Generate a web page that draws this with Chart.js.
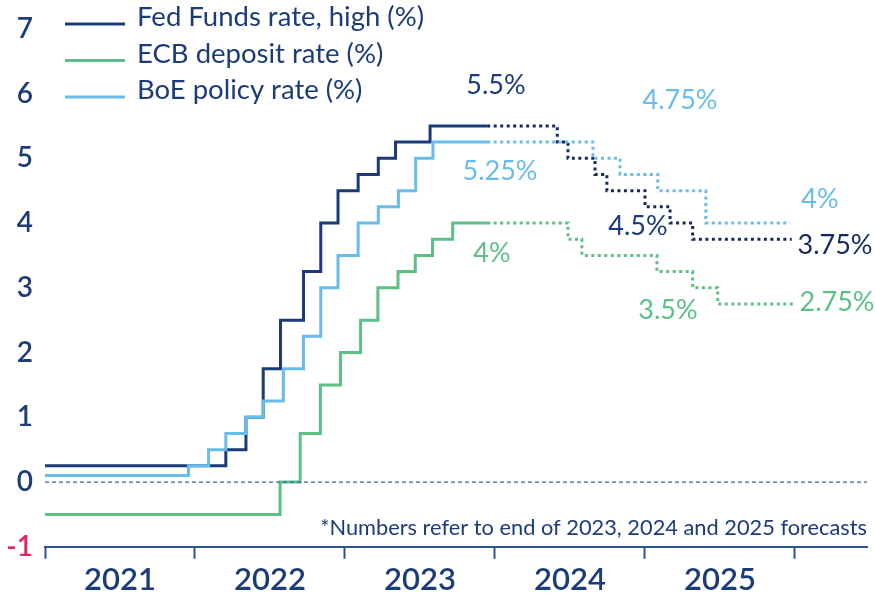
<!DOCTYPE html>
<html>
<head>
<meta charset="utf-8">
<script src="https://cdn.jsdelivr.net/npm/chart.js@4.4.1/dist/chart.umd.min.js"></script>
<style>
    html, body { margin: 0; padding: 0; background: #ffffff; }
    #chart { display: block; }
</style>
</head>
<body>
<canvas id="chart" width="875" height="602"></canvas>
<script>
// policy rate steps: date of change -> new rate (last points are forecasts)
const fedDates = ["2021-01-01", "2022-03-17", "2022-05-05", "2022-06-16", "2022-07-28", "2022-09-22",
    "2022-11-03", "2022-12-15", "2023-02-02", "2023-03-23", "2023-05-04", "2023-07-27", "2023-12-13",
    "2024-06-01", "2024-06-27", "2024-09-01", "2024-09-30", "2025-01-01", "2025-03-03", "2025-04-27", "2025-12-24"];
const fedRates = [0.25, 0.5, 1.0, 1.75, 2.5, 3.25, 4.0, 4.5, 4.75, 5.0, 5.25, 5.5, 5.5,
    5.25, 5.0, 4.75, 4.5, 4.25, 4.0, 3.75, 3.75];

const ecbDates = ["2021-01-01", "2022-07-27", "2022-09-14", "2022-11-02", "2022-12-21", "2023-02-08",
    "2023-03-22", "2023-05-10", "2023-06-21", "2023-08-02", "2023-09-20", "2023-12-13",
    "2024-06-27", "2024-07-31", "2025-01-30", "2025-04-27", "2025-06-27", "2025-12-27"];
const ecbRates = [-0.5, 0.0, 0.75, 1.5, 2.0, 2.5, 3.0, 3.25, 3.5, 3.75, 4.0, 4.0,
    3.75, 3.5, 3.25, 3.0, 2.75, 2.75];

const boeDates = ["2021-01-01", "2021-12-16", "2022-02-03", "2022-03-17", "2022-05-05", "2022-06-16",
    "2022-08-04", "2022-09-22", "2022-11-03", "2022-12-15", "2023-02-02", "2023-03-23", "2023-05-11",
    "2023-06-22", "2023-08-03", "2023-12-13", "2024-08-27", "2024-11-01", "2025-02-01", "2025-05-29", "2025-12-20"];
const boeRates = [0.1, 0.25, 0.5, 0.75, 1.0, 1.25, 1.75, 2.25, 3.0, 3.5, 4.0, 4.25, 4.5,
    5.0, 5.25, 5.25, 5.0, 4.75, 4.5, 4.0, 4.0];

const FORECAST_FROM = "2023-12-13";
const years = [2021, 2022, 2023, 2024, 2025];
const labelYears = [2023, 2024, 2025];
const yTicks = [-1, 0, 1, 2, 3, 4, 5, 6, 7];
const X_MIN = 2021;
const X_MAX = 2026.48;

const legendLabels = ["Fed Funds rate, high (%)", "ECB deposit rate (%)", "BoE policy rate (%)"];
const footnote = "*Numbers refer to end of 2023, 2024 and 2025 forecasts";

const NAVY = "#1c3c78";
const colors = ["#1b3a78", "#5cbf86", "#68bde8"];
const dotColors = ["#14295a", "#5cbf86", "#68bde8"];
const FONT = "Lato";

function toYear(str) {
    const [y, m, d] = str.split("-").map(Number);
    const start = Date.UTC(y, 0, 1);
    const end = Date.UTC(y + 1, 0, 1);
    return y + (Date.UTC(y, m - 1, d) - start) / (end - start);
}

function toPoints(dates, rates) {
    return dates.map((d, i) => ({ x: toYear(d), y: rates[i] }));
}

function valueAt(dates, rates, t) {
    let v = rates[0];
    dates.forEach((d, i) => { if (toYear(d) <= t) v = rates[i]; });
    return v;
}

const split = toYear(FORECAST_FROM);

function rateDataset(label, dates, rates, i) {
    return {
        label: label,
        data: toPoints(dates, rates),
        borderColor: colors[i],
        borderWidth: 3,
        pointRadius: 0,
        stepped: "before",
        fill: false,
        segment: {
            borderDash: ctx => ctx.p0.parsed.x >= split - 0.001 ? [3, 3.5] : undefined,
            borderColor: ctx => ctx.p0.parsed.x >= split - 0.001 ? dotColors[i] : undefined
        }
    };
}

const series = [
    { dates: fedDates, rates: fedRates },
    { dates: ecbDates, rates: ecbRates },
    { dates: boeDates, rates: boeRates }
];

// label offsets from the year-end point, px
const noteOffsets = [
    [[1, -41], [-7, 36], [40, 6]],
    [[-3, 30], [23, 55], [42, -2]],
    [[5, 29], [35, -74], [25, -24]]
];

const overlay = {
    id: "overlay",
    afterDatasetsDraw(chart) {
        const { ctx, chartArea, scales: { x, y } } = chart;
        ctx.save();

        legendLabels.forEach((label, i) => {
            const ly = 24 + i * 36.5;
            ctx.strokeStyle = colors[i];
            ctx.lineWidth = 3;
            ctx.beginPath();
            ctx.moveTo(65, ly);
            ctx.lineTo(125, ly);
            ctx.stroke();
            ctx.fillStyle = NAVY;
            ctx.font = `27.5px ${FONT}`;
            ctx.textAlign = "left";
            ctx.textBaseline = "alphabetic";
            ctx.fillText(label, 137, ly + 2);
        });

        ctx.font = `27px ${FONT}`;
        ctx.textAlign = "center";
        ctx.textBaseline = "middle";
        series.forEach((s, i) => {
            labelYears.forEach((yr, k) => {
                const v = valueAt(s.dates, s.rates, yr + 0.999);
                const px = x.getPixelForValue(yr + 1) + noteOffsets[i][k][0];
                const py = y.getPixelForValue(v) + noteOffsets[i][k][1];
                ctx.fillStyle = (i === 0 && k === 2) ? dotColors[0] : colors[i];
                ctx.fillText(v + "%", px, py);
            });
        });

        ctx.font = `21.8px ${FONT}`;
        ctx.fillStyle = NAVY;
        ctx.textAlign = "right";
        ctx.textBaseline = "alphabetic";
        ctx.fillText(footnote, chartArea.right, 535);
        ctx.restore();
    }
};

const xTickValues = [];
years.forEach(yr => { xTickValues.push(yr, yr + 0.5); });
xTickValues.push(years[years.length - 1] + 1);

new Chart(document.getElementById("chart"), {
    type: "line",
    data: {
        datasets: [
            {
                label: "zero",
                data: [{ x: X_MIN, y: 0 }, { x: X_MAX, y: 0 }],
                borderColor: "#2f6d96",
                borderWidth: 1.2,
                borderDash: [4, 3],
                pointRadius: 0
            },
            rateDataset(legendLabels[1], ecbDates, ecbRates, 1),
            rateDataset(legendLabels[2], boeDates, boeRates, 2),
            rateDataset(legendLabels[0], fedDates, fedRates, 0)
        ]
    },
    options: {
        responsive: false,
        animation: false,
        layout: { padding: { top: 25, right: 8, left: 0, bottom: 0 } },
        plugins: { legend: { display: false }, tooltip: { enabled: false } },
        scales: {
            x: {
                type: "linear",
                min: X_MIN,
                max: X_MAX,
                afterBuildTicks: scale => { scale.ticks = xTickValues.map(v => ({ value: v })); },
                ticks: {
                    autoSkip: false,
                    maxRotation: 0,
                    padding: 3,
                    color: NAVY,
                    font: { family: FONT, size: 31, weight: "600" },
                    callback: v => (v % 1 !== 0 ? String(Math.floor(v)) : "")
                },
                grid: {
                    drawOnChartArea: false,
                    tickLength: 12,
                    tickWidth: 2,
                    tickColor: ctx => (ctx.tick && ctx.tick.value % 1 === 0 ? "#2d5290" : "rgba(0,0,0,0)")
                },
                border: { color: "#2d5290", width: 2 }
            },
            y: {
                min: -1,
                max: 7,
                afterBuildTicks: scale => { scale.ticks = yTicks.map(v => ({ value: v })); },
                afterFit: scale => { scale.width = 45; },
                ticks: {
                    padding: 12,
                    color: ctx => (ctx.tick.value < 0 ? "#e0245e" : NAVY),
                    font: { family: FONT, size: 28, weight: "600" }
                },
                grid: { display: false, drawTicks: false },
                border: { display: false }
            }
        }
    },
    plugins: [overlay]
});
</script>
</body>
</html>
